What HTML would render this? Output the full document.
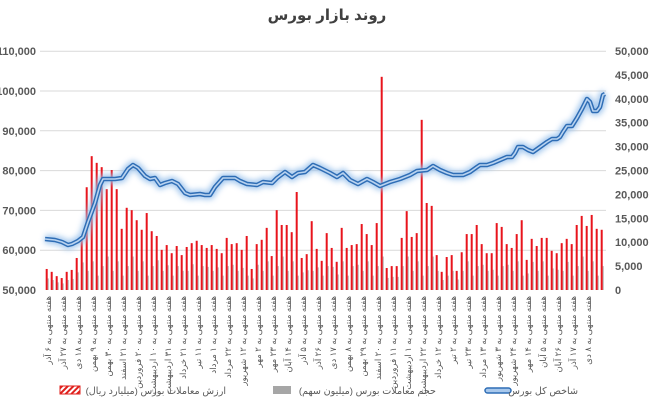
<!DOCTYPE html>
<html><head><meta charset="utf-8"><style>
html,body{margin:0;padding:0;background:#fff;}
svg{display:block;font-family:"Liberation Sans","Noto Sans CJK SC","DejaVu Sans",sans-serif;}
</style></head><body>
<svg id="c" width="654" height="401" viewBox="0 0 654 401" xmlns="http://www.w3.org/2000/svg">
<defs>
<filter id="glow" x="-10%" y="-10%" width="120%" height="120%"><feGaussianBlur stdDeviation="3"/></filter>
<pattern id="hatch" width="4" height="4" patternUnits="userSpaceOnUse" patternTransform="rotate(45)"><rect width="4" height="4" fill="#fff"/><rect width="2" height="4" fill="#e0211d"/></pattern>
</defs>
<text x="327" y="20" text-anchor="middle" font-size="15" font-weight="bold" fill="#404040">روند بازار بورس</text>
<g id="grid"></g>
<g id="bars"></g>
<g id="line"></g>
<g id="xl" font-size="8.6" fill="#595959"></g>
<g font-size="9.6" fill="#595959">
<rect x="60" y="386" width="20" height="8" fill="url(#hatch)" stroke="#e0211d" stroke-width="1"/>
<text x="226" y="394" text-anchor="end">ارزش معاملات بورس (میلیارد ریال)</text>
<rect x="273" y="386" width="18" height="8" fill="#a6a6a6"/>
<text x="436" y="394" text-anchor="end">حجم معاملات بورس (میلیون سهم)</text>
<rect x="485" y="388" width="26" height="5" rx="2.5" fill="#a8c8ec" stroke="#2e6db5" stroke-width="1.5"/>
<text x="578" y="394" text-anchor="end">شاخص کل بورس</text>
</g>
</svg>
<script>
var ns="http://www.w3.org/2000/svg";
function el(p,t,a,txt){var e=document.createElementNS(ns,t);for(var k in a)e.setAttribute(k,a[k]);if(txt!=null)e.textContent=txt;p.appendChild(e);return e;}
var g=document.getElementById('grid');
var L=["50,000","60,000","70,000","80,000","90,000","100,000","110,000"];
var R=["0","5,000","10,000","15,000","20,000","25,000","30,000","35,000","40,000","45,000","50,000"];
for(var i=0;i<7;i++){var y=290-i*39.8;if(i>0)el(g,'line',{x1:40,x2:606,y1:y,y2:y,stroke:'#d9d9d9','stroke-width':1});
el(g,'text',{x:36,y:y+4,'text-anchor':'end','font-size':'11','font-weight':'bold',fill:'#595959'},L[i]);}
for(var i=0;i<11;i++){var y=290-i*23.9;el(g,'text',{x:615,y:y+4,'font-size':'11','font-weight':'bold',fill:'#595959'},R[i]);}
var v=[4.4,3.8,2.9,2.5,3.8,4.2,6.7,10.5,21.5,28,26.6,25.7,21.1,25.1,21.1,12.8,17.2,16.7,14.6,12.6,16.1,12.3,11.3,8.4,9.4,7.7,9.2,7.3,9.0,9.8,10.3,9.4,8.8,
9.4,8.6,7.7,10.9,9.6,9.8,8.4,11.3,4.4,9.6,10.5,13.0,7.1,16.7,13.6,13.6,12.1,20.5,6.7,7.5,14.4,8.6,6.1,11.9,8.8,5.9,13.0,8.8,9.4,9.6,13.8,11.7,9.4,14.0,44.6,4.6,5.0,5.0,10.9,16.5,11.1,11.9,35.6,18.2,17.6,
7.3,3.8,6.9,7.3,4.0,7.9,11.7,11.7,13.6,9.6,7.7,7.7,14.0,13.2,9.6,8.8,11.7,14.6,6.3,10.7,9.2,10.9,10.9,8.2,7.7,9.8,10.7,9.6,13.6,15.5,13.4,15.7,12.8,12.6];
var b=document.getElementById('bars');
for(var i=0;i<v.length;i++){var x=45.7+i*5;var h=v[i]*4.78;
var gh=Math.min(h*0.55,(3+((i*7)%5))*4.78);
el(b,'rect',{x:x+1.3,y:290-gh,width:2,height:gh,fill:'#c8c8c8'});
el(b,'rect',{x:x,y:290-h,width:2,height:h,fill:'#e8141c'});}
var p=[[45,239],[55,240],[62,242],[68,245],[72,244],[78,241],[83,237],[88,222],[95,203],[100,185],[103,179],[108,179],[115,179],[122,178],[128,169],[133,165],[138,168],[145,176],[150,179],[155,178],[160,185],[165,183],[172,181],[178,184],[185,193],[190,195],[200,194],[205,195],[210,195],[215,187],[223,178],[235,178],[240,181],[247,184],[257,185],[263,182],[272,183],[277,178],[285,172],[292,177],[298,173],[305,172],[313,165],[320,168],[330,173],[337,177],[343,173],[350,180],[358,184],[367,179],[373,182],[380,186],[390,182],[400,179],[410,175],[417,171],[427,170],[433,166],[440,170],[447,173],[453,175],[463,175],[470,172],[477,167],[480,165],[487,165],[493,163],[500,160],[507,157],[512,157],[515,153],[518,147],[523,147],[528,150],[533,152],[540,147],[547,142],[552,139],[557,139],[560,137],[563,132],[567,126],[572,126],[577,118],[582,109],[587,99],[590,102],[593,111],[597,111],[600,107],[603,95],[605,94]];
var d=p.map(function(q,i){return (i?'L':'M')+q[0]+','+q[1];}).join(' ');
var ln=document.getElementById('line');
el(ln,'path',{d:d,fill:'none',stroke:'#9cc3ec','stroke-width':9,'stroke-linejoin':'round',filter:'url(#glow)',opacity:0.9});
el(ln,'path',{d:d,fill:'none',stroke:'#2e6db5','stroke-width':4.5,'stroke-linejoin':'round'});
el(ln,'path',{d:d,fill:'none',stroke:'#b9d3f0','stroke-width':1.6,'stroke-linejoin':'round'});
var labs=["۶ آذر","۲۷ آذر","۱۸ دی","۹ بهمن","۳۰ بهمن","۲۱ اسفند","۲۰ فروردین","۱۰ اردیبهشت","۳۱ اردیبهشت","۲۱ خرداد","۱۱ تیر","۱ مرداد","۲۲ مرداد","۱۲ شهریور","۲ مهر","۲۳ مهر","۱۴ آبان","۵ آذر","۲۶ آذر","۱۷ دی","۸ بهمن","۲۹ بهمن","۲۰ اسفند","۱۱ فروردین","۱ اردیبهشت","۲۲ اردیبهشت","۱۲ خرداد","۲ تیر","۲۳ تیر","۱۳ مرداد","۳ شهریور","۲۴ شهریور","۱۴ مهر","۵ آبان","۲۶ آبان","۱۷ آذر","۸ دی"];
var xl=document.getElementById('xl');
for(var i=0;i<labs.length;i++){var x=51+i*15;
el(xl,'text',{transform:'translate('+x+',296) rotate(-90)','text-anchor':'end'},'هفته منتهی به '+labs[i]);}
</script>
</body></html>
